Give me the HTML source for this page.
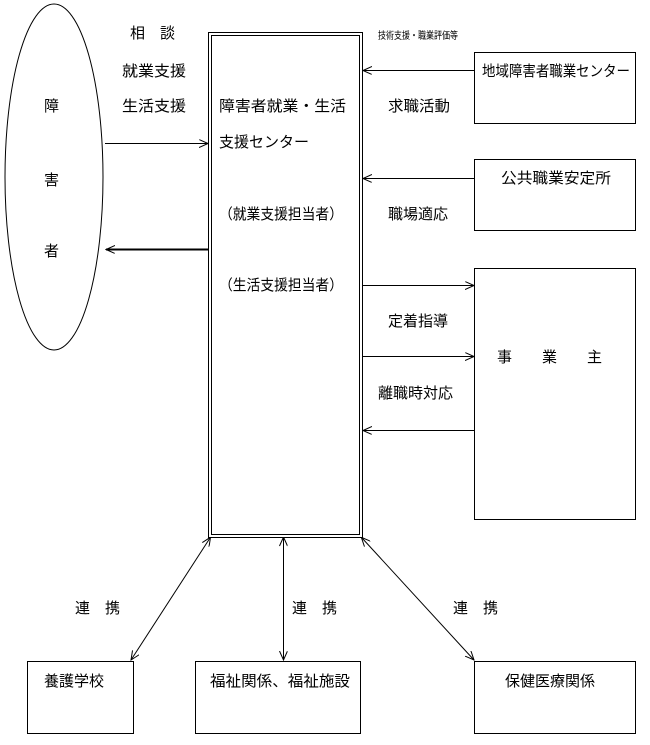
<!DOCTYPE html>
<html><head><meta charset="utf-8"><style>
body{margin:0;background:#fff}
svg text{font-family:"Liberation Sans","Noto Sans CJK JP",sans-serif;font-size:15px;fill:#000}
</style></head><body>
<svg width="650" height="740" viewBox="0 0 650 740" xmlns="http://www.w3.org/2000/svg">
<defs>
<marker id="a" markerWidth="10" markerHeight="10" refX="9" refY="4" orient="auto" markerUnits="userSpaceOnUse"><path d="M0,0 L9,4 L0,8" fill="none" stroke="#000" stroke-width="1"/></marker>
<marker id="s" markerWidth="10" markerHeight="10" refX="1" refY="4" orient="auto" markerUnits="userSpaceOnUse"><path d="M9,0 L0,4 L9,8" fill="none" stroke="#000" stroke-width="1"/></marker>
</defs>
<g fill="none" stroke="#000" stroke-width="1">
<ellipse cx="54" cy="177" rx="49" ry="173"/>
<rect x="208.5" y="32.5" width="154" height="505"/>
<rect x="211.5" y="35.5" width="148" height="499"/>
<rect x="474.5" y="52.5" width="161" height="71"/>
<rect x="474.5" y="159.5" width="161" height="71"/>
<rect x="474.5" y="268.5" width="161" height="251"/>
<rect x="27.5" y="661.5" width="106" height="72"/>
<rect x="195.5" y="661.5" width="165" height="72"/>
<rect x="474.5" y="661.5" width="161" height="72"/>
<line x1="474" y1="70.5" x2="363" y2="70.5" marker-end="url(#a)"/>
<line x1="474" y1="178.5" x2="363" y2="178.5" marker-end="url(#a)"/>
<line x1="363" y1="285.5" x2="474" y2="285.5" marker-end="url(#a)"/>
<line x1="363" y1="356.5" x2="474" y2="356.5" marker-end="url(#a)"/>
<line x1="474" y1="430.5" x2="363" y2="430.5" marker-end="url(#a)"/>
<line x1="105" y1="143.5" x2="208" y2="143.5" marker-end="url(#a)"/>
<line x1="208" y1="249.5" x2="106" y2="249.5" stroke-width="2" marker-end="url(#a)"/>
<line x1="210" y1="538" x2="131" y2="660" marker-start="url(#s)" marker-end="url(#a)"/>
<line x1="283.5" y1="538" x2="283.5" y2="660" marker-start="url(#s)" marker-end="url(#a)"/>
<line x1="362" y1="538" x2="474" y2="660" marker-start="url(#s)" marker-end="url(#a)"/>
</g>
<text x="130" y="38">相　談</text>
<text x="122" y="76" textLength="64" lengthAdjust="spacingAndGlyphs">就業支援</text>
<text x="122" y="111" textLength="64" lengthAdjust="spacingAndGlyphs">生活支援</text>
<text x="44" y="111">障</text>
<text x="44" y="185">害</text>
<text x="44" y="256">者</text>
<text x="219" y="111" textLength="127" lengthAdjust="spacingAndGlyphs">障害者就業・生活</text>
<text x="219" y="147">支援センター</text>
<text x="219" y="219" textLength="124" lengthAdjust="spacingAndGlyphs">（就業支援担当者）</text>
<text x="219" y="290" textLength="124" lengthAdjust="spacingAndGlyphs">（生活支援担当者）</text>
<text x="378" y="39" style="font-size:10px" textLength="80" lengthAdjust="spacingAndGlyphs">技術支援・職業評価等</text>
<text x="482" y="76" textLength="148" lengthAdjust="spacingAndGlyphs">地域障害者職業センター</text>
<text x="388" y="111" textLength="62" lengthAdjust="spacingAndGlyphs">求職活動</text>
<text x="501" y="183" textLength="110" lengthAdjust="spacingAndGlyphs">公共職業安定所</text>
<text x="388" y="219">職場適応</text>
<text x="388" y="326">定着指導</text>
<text x="378" y="398">離職時対応</text>
<text x="497" y="362">事　　業　　主</text>
<text x="75" y="613">連　携</text>
<text x="292" y="613">連　携</text>
<text x="453" y="613">連　携</text>
<text x="44" y="686">養護学校</text>
<text x="210" y="686" textLength="140" lengthAdjust="spacingAndGlyphs">福祉関係、福祉施設</text>
<text x="505" y="686">保健医療関係</text>
</svg>
</body></html>
